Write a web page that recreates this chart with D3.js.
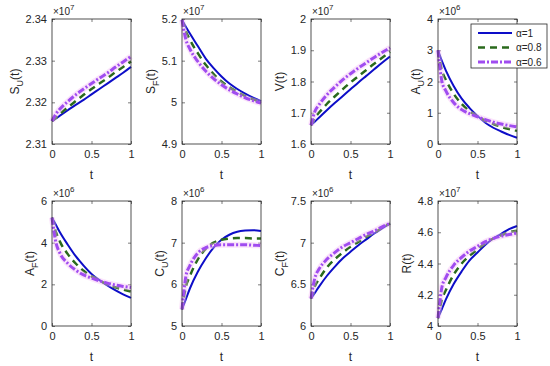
<!DOCTYPE html>
<html>
<head>
<meta charset="utf-8">
<script src="https://cdn.jsdelivr.net/npm/d3@7"></script>
<style>
  body { margin: 0; background: #fff; }
  text { font-family: "Liberation Sans", Arial, sans-serif; fill: #262626; }
</style>
</head>
<body>
<svg id="chart" width="550" height="366"></svg>
<script>
// time grid shared by every curve
var tValues = [0, 0.05, 0.1, 0.2, 0.3, 0.4, 0.5, 0.6, 0.7, 0.8, 0.9, 1]
var alphaLabels = ['α=1', 'α=0.8', 'α=0.6']
var xTicks = [0, 0.5, 1]

// S_U(t), x 10^7
var suAlpha1 = [2.3155, 2.31615, 2.3168, 2.3181, 2.3194, 2.3206, 2.3219, 2.3232, 2.3245, 2.3258, 2.3271, 2.3285]
var suAlpha08 = [2.3155, 2.3163, 2.3172, 2.3188, 2.3203, 2.3218, 2.3232, 2.3245, 2.3258, 2.3272, 2.3285, 2.3298]
var suAlpha06 = [2.3155, 2.3172, 2.3184, 2.3202, 2.3218, 2.3232, 2.3245, 2.3258, 2.3270, 2.3284, 2.3297, 2.3310]
// S_F(t), x 10^7
var sfAlpha1 = [5.198, 5.181, 5.165, 5.135, 5.105, 5.082, 5.062, 5.045, 5.032, 5.021, 5.011, 5.003]
var sfAlpha08 = [5.198, 5.170, 5.150, 5.118, 5.090, 5.068, 5.050, 5.036, 5.025, 5.015, 5.007, 5.000]
var sfAlpha06 = [5.198, 5.150, 5.128, 5.098, 5.075, 5.057, 5.042, 5.030, 5.020, 5.011, 5.004, 4.998]
// V(t), x 10^7
var vAlpha1 = [1.660, 1.672, 1.684, 1.708, 1.731, 1.753, 1.775, 1.797, 1.818, 1.839, 1.860, 1.880]
var vAlpha08 = [1.660, 1.685, 1.700, 1.728, 1.752, 1.775, 1.797, 1.817, 1.837, 1.857, 1.876, 1.895]
var vAlpha06 = [1.660, 1.705, 1.725, 1.757, 1.782, 1.805, 1.825, 1.843, 1.860, 1.877, 1.893, 1.908]
// A_U(t), x 10^6
var auAlpha1 = [3.0, 2.65, 2.35, 1.85, 1.45, 1.15, 0.90, 0.68, 0.52, 0.40, 0.29, 0.20]
var auAlpha08 = [3.0, 2.35, 2.05, 1.60, 1.28, 1.05, 0.88, 0.75, 0.64, 0.55, 0.48, 0.42]
var auAlpha06 = [3.0, 2.00, 1.70, 1.32, 1.10, 0.97, 0.87, 0.78, 0.70, 0.64, 0.59, 0.55]
// A_F(t), x 10^6
var afAlpha1 = [5.2, 4.85, 4.5, 3.9, 3.35, 2.9, 2.5, 2.2, 1.95, 1.72, 1.52, 1.35]
var afAlpha08 = [5.2, 4.5, 4.05, 3.45, 3.0, 2.65, 2.38, 2.18, 2.0, 1.86, 1.75, 1.65]
var afAlpha06 = [5.2, 4.0, 3.5, 3.0, 2.68, 2.45, 2.3, 2.17, 2.06, 1.97, 1.9, 1.85]
// C_U(t), x 10^6
var cuAlpha1 = [5.4, 5.65, 5.9, 6.3, 6.62, 6.88, 7.07, 7.19, 7.26, 7.29, 7.30, 7.28]
var cuAlpha08 = [5.4, 5.95, 6.2, 6.6, 6.85, 7.0, 7.07, 7.1, 7.11, 7.11, 7.1, 7.1]
var cuAlpha06 = [5.4, 6.2, 6.45, 6.75, 6.88, 6.93, 6.95, 6.95, 6.95, 6.95, 6.94, 6.93]
// C_F(t), x 10^6
var cfAlpha1 = [6.33, 6.4, 6.47, 6.6, 6.71, 6.81, 6.89, 6.97, 7.04, 7.11, 7.17, 7.23]
var cfAlpha08 = [6.33, 6.48, 6.56, 6.7, 6.8, 6.88, 6.95, 7.01, 7.07, 7.12, 7.18, 7.23]
var cfAlpha06 = [6.33, 6.58, 6.68, 6.8, 6.88, 6.95, 7.0, 7.05, 7.1, 7.14, 7.19, 7.23]
// R(t), x 10^7
var rAlpha1 = [4.05, 4.11, 4.17, 4.27, 4.35, 4.42, 4.47, 4.52, 4.56, 4.59, 4.62, 4.64]
var rAlpha08 = [4.05, 4.17, 4.23, 4.33, 4.40, 4.45, 4.49, 4.53, 4.56, 4.58, 4.60, 4.61]
var rAlpha06 = [4.05, 4.25, 4.31, 4.39, 4.44, 4.48, 4.51, 4.54, 4.56, 4.575, 4.585, 4.595]

var panels = [
  { name: 'S', sub: 'U', exp: 7, domain: [2.31, 2.34], ticks: [2.31, 2.32, 2.33, 2.34], series: [suAlpha1, suAlpha08, suAlpha06] },
  { name: 'S', sub: 'F', exp: 7, domain: [4.9, 5.2], ticks: [4.9, 5, 5.1, 5.2], series: [sfAlpha1, sfAlpha08, sfAlpha06] },
  { name: 'V', sub: '', exp: 7, domain: [1.6, 2], ticks: [1.6, 1.7, 1.8, 1.9, 2], series: [vAlpha1, vAlpha08, vAlpha06] },
  { name: 'A', sub: 'U', exp: 6, domain: [0, 4], ticks: [0, 1, 2, 3, 4], series: [auAlpha1, auAlpha08, auAlpha06] },
  { name: 'A', sub: 'F', exp: 6, domain: [0, 6], ticks: [0, 2, 4, 6], series: [afAlpha1, afAlpha08, afAlpha06] },
  { name: 'C', sub: 'U', exp: 6, domain: [5, 8], ticks: [5, 6, 7, 8], series: [cuAlpha1, cuAlpha08, cuAlpha06] },
  { name: 'C', sub: 'F', exp: 6, domain: [6, 7.5], ticks: [6, 6.5, 7, 7.5], series: [cfAlpha1, cfAlpha08, cfAlpha06] },
  { name: 'R', sub: '', exp: 7, domain: [4, 4.8], ticks: [4, 4.2, 4.4, 4.6, 4.8], series: [rAlpha1, rAlpha08, rAlpha06] }
]

// layout
var lefts = [52, 182, 311, 438]
var tops = [19, 201]
var width = 79
var height = 125

var styles = [
  { color: '#0d0dc8', width: 2, dash: null },
  { color: '#2a6a1c', width: 2.5, dash: '7,5' },
  { color: '#a04cf0', width: 3, dash: '7,2,2,2' }
]

var svg = d3.select('#chart')

var xPositionScale = d3.scaleLinear().domain([0, 1]).range([0, width])

panels.forEach(function (p, i) {
  var g = svg
    .append('g')
    .attr('transform', 'translate(' + lefts[i % 4] + ',' + tops[Math.floor(i / 4)] + ')')

  var yPositionScale = d3.scaleLinear().domain(p.domain).range([height, 0])

  var line = d3
    .line()
    .x(function (d, j) { return xPositionScale(tValues[j]) })
    .y(function (d) { return yPositionScale(d) })
    .curve(d3.curveMonotoneX)

  var fmt = function (d) { return String(+d.toFixed(3)) }

  // axes
  var yAxis = g.append('g').attr('class', 'y-axis')
    .call(d3.axisLeft(yPositionScale).tickValues(p.ticks).tickSizeInner(-3).tickSizeOuter(0).tickPadding(5).tickFormat(fmt))
  g.append('g').attr('transform', 'translate(' + width + ',0)')
    .call(d3.axisRight(yPositionScale).tickValues(p.ticks).tickSizeInner(-3).tickSizeOuter(0).tickFormat(''))
  g.append('g').attr('transform', 'translate(0,' + height + ')')
    .call(d3.axisBottom(xPositionScale).tickValues(xTicks).tickSizeInner(-3).tickSizeOuter(0).tickPadding(6).tickFormat(fmt))
  g.append('g')
    .call(d3.axisTop(xPositionScale).tickValues(xTicks).tickSizeInner(-3).tickSizeOuter(0).tickFormat(''))

  g.selectAll('.domain').remove()
  g.selectAll('.tick line').attr('stroke', '#262626').attr('stroke-width', 0.6)
  g.selectAll('.tick text').attr('font-size', 11).attr('fill', '#262626')
    .style('font-family', '"Liberation Sans", Arial, sans-serif')

  // curves, α=1 first so α=0.6 ends on top
  p.series.forEach(function (vals, k) {
    if (k === 2) {
      g.append('path')
        .datum(vals)
        .attr('d', line)
        .attr('fill', 'none')
        .attr('stroke', '#f4b8f4')
        .attr('stroke-width', 6)
        .attr('opacity', 0.4)
    }
    g.append('path')
      .datum(vals)
      .attr('d', line)
      .attr('fill', 'none')
      .attr('stroke', styles[k].color)
      .attr('stroke-width', styles[k].width)
      .attr('stroke-dasharray', styles[k].dash)
  })

  // box
  g.append('rect')
    .attr('width', width)
    .attr('height', height)
    .attr('fill', 'none')
    .attr('stroke', '#262626')
    .attr('stroke-width', 0.8)

  // exponent
  var ex = g.append('text')
    .attr('x', 1)
    .attr('y', -4)
    .attr('font-size', 10)
    .text('×10')
  ex.append('tspan').attr('dy', -5).attr('font-size', 8).text(p.exp)

  // y label
  var bb = yAxis.node().getBBox()
  var yl = g.append('text')
    .attr('transform', 'translate(' + (bb.x - 7) + ',' + height / 2 + ') rotate(-90)')
    .attr('text-anchor', 'middle')
    .attr('font-size', 12)
    .text(p.name)
  if (p.sub) {
    yl.append('tspan').attr('dy', 4).attr('font-size', 9).text(p.sub)
    yl.append('tspan').attr('dy', -4).text('(t)')
  } else {
    yl.append('tspan').text('(t)')
  }

  // x label
  g.append('text')
    .attr('x', width / 2)
    .attr('y', height + 35)
    .attr('text-anchor', 'middle')
    .attr('font-size', 12)
    .text('t')

  // legend lives in the 4th panel
  if (i === 3) {
    var lg = g.append('g').attr('transform', 'translate(33,5)')
    lg.append('rect')
      .attr('width', 76)
      .attr('height', 44)
      .attr('fill', '#fff')
      .attr('stroke', '#262626')
      .attr('stroke-width', 0.8)
    alphaLabels.forEach(function (lab, k) {
      var yy = 9 + k * 14.5
      lg.append('line')
        .attr('x1', 7).attr('x2', 41)
        .attr('y1', yy).attr('y2', yy)
        .attr('stroke', styles[k].color)
        .attr('stroke-width', styles[k].width)
        .attr('stroke-dasharray', styles[k].dash)
      lg.append('text')
        .attr('x', 45)
        .attr('y', yy + 3.5)
        .attr('font-size', 10)
        .text(lab)
    })
  }
})
</script>
</body>
</html>
